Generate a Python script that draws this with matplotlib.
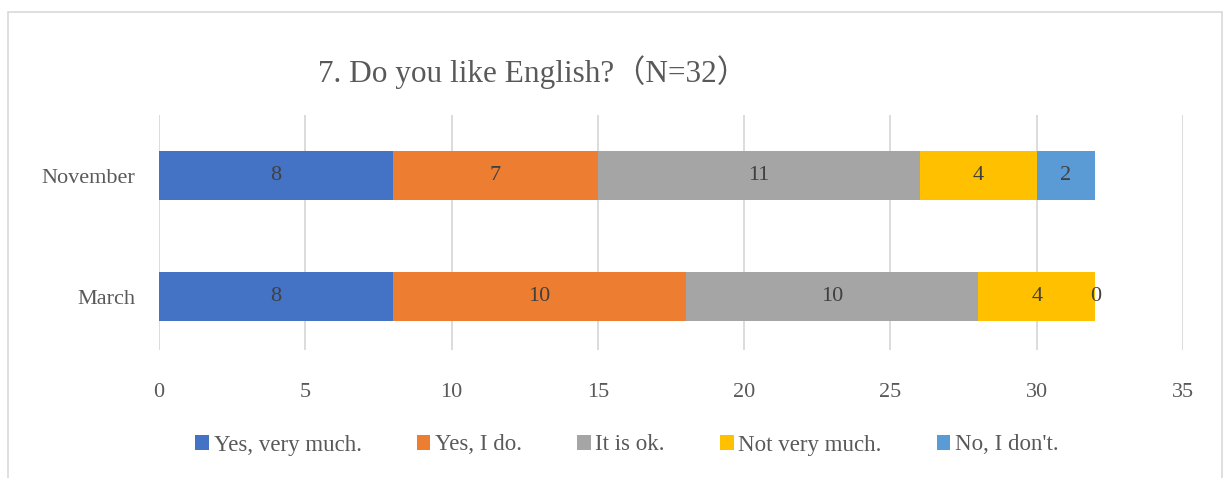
import matplotlib.pyplot as plt
from matplotlib.patches import Rectangle

months = ["March", "November"]
series = ["Yes, very much.", "Yes, I do.", "It is ok.", "Not very much.", "No, I don't."]
values = [
    [8, 8],
    [10, 7],
    [10, 11],
    [4, 4],
    [0, 2],
]
colors = ["#4472C4", "#ED7D31", "#A5A5A5", "#FFC000", "#5B9BD5"]
text_color = "#595959"
serif = ["Liberation Serif", "Noto Sans CJK JP"]

plt.rcParams["font.family"] = serif

fig = plt.figure(figsize=(12.31, 4.78), dpi=100)
ax = fig.add_axes([159 / 1231, 1 - 350 / 478, 1024 / 1231, 235 / 478])

# outer chart frame
fig.patches.append(Rectangle((8 / 1231, -0.05), 1214 / 1231, 1.05 - 12 / 478,
                             transform=fig.transFigure, fill=False,
                             edgecolor="#D9D9D9", linewidth=1.2))

left = [0, 0]
for name, vals, c in zip(series, values, colors):
    ax.barh(range(len(months)), vals, left=left, height=0.4, color=c,
            label=name, zorder=3)
    for i, v in enumerate(vals):
        ax.text(left[i] + v / 2, i, str(v), ha="center", va="center",
                fontsize=16, color="#404040", zorder=4)
    left = [l + v for l, v in zip(left, vals)]

ax.set_xlim(0, 35)
ax.set_ylim(-0.44, 1.5)
ax.set_xticks(range(0, 36, 5))
ax.set_yticks(range(len(months)))
ax.set_yticklabels(months)
ax.tick_params(length=0, colors=text_color, labelsize=16)
ax.tick_params(axis="x", pad=24)
ax.tick_params(axis="y", pad=17)
ax.grid(axis="x", color="#D9D9D9", linewidth=1.3, zorder=0)
for s in ax.spines.values():
    s.set_visible(False)

fig.text(533 / 1231, 1 - 72 / 478, "7. Do you like English?（N=32）",
         ha="center", va="center", fontsize=22.5, color=text_color)

fig.legend(loc="center", bbox_to_anchor=(627 / 1231, 1 - 445 / 478), ncol=5,
           frameon=False, fontsize=16.5, handlelength=0.6, handleheight=0.6,
           handletextpad=0.2, columnspacing=2.4, labelcolor=text_color)

fig.savefig("out.png", dpi=100)
